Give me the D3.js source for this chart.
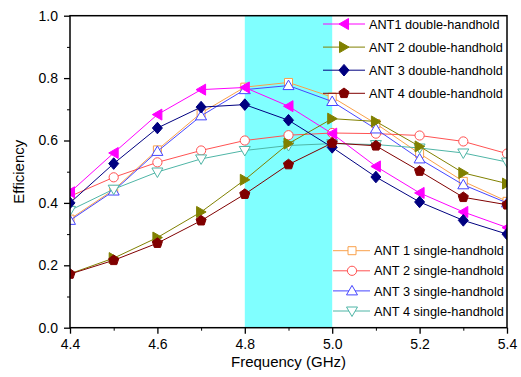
<!DOCTYPE html>
<html><head><meta charset="utf-8">
<script src="https://cdn.jsdelivr.net/npm/d3@7/dist/d3.min.js"></script>
<style>body{margin:0;background:#fff}svg{display:block;font-family:"Liberation Sans",Arial,sans-serif}</style>
</head><body><svg id="c" width="521" height="377"></svg>
<script>
const freq = [4.4,4.5,4.6,4.7,4.8,4.9,5.0,5.1,5.2,5.3,5.4];
const ant1Double = [0.434,0.560,0.683,0.763,0.770,0.710,0.622,0.517,0.432,0.371,0.321];
const ant2Double = [0.173,0.223,0.289,0.371,0.474,0.590,0.670,0.661,0.581,0.496,0.462];
const ant3Double = [0.400,0.526,0.640,0.707,0.715,0.665,0.578,0.483,0.403,0.344,0.300];
const ant4Double = [0.172,0.216,0.271,0.343,0.428,0.523,0.592,0.583,0.502,0.418,0.394];
const ant1Single = [0.348,0.442,0.570,0.688,0.771,0.786,0.739,0.654,0.558,0.469,0.405];
const ant2Single = [0.421,0.482,0.530,0.568,0.600,0.617,0.624,0.622,0.616,0.597,0.558];
const ant3Single = [0.344,0.438,0.565,0.679,0.763,0.776,0.725,0.637,0.541,0.458,0.400];
const ant4Single = [0.376,0.444,0.499,0.541,0.568,0.584,0.590,0.587,0.576,0.560,0.531];
const xTicks = [4.4,4.6,4.8,5.0,5.2,5.4];
const yTicks = [0.0,0.2,0.4,0.6,0.8,1.0];
const band = [4.8,5.0];

const singles = [
  {name:"ANT 1 single-handhold", values:ant1Single, color:"#f9a04a", shape:"square", open:true},
  {name:"ANT 2 single-handhold", values:ant2Single, color:"#ff5252", shape:"circle", open:true},
  {name:"ANT 3 single-handhold", values:ant3Single, color:"#4646ff", shape:"up", open:true},
  {name:"ANT 4 single-handhold", values:ant4Single, color:"#4fb5a6", shape:"down", open:true}
];
const doubles = [
  {name:"ANT1 double-handhold", values:ant1Double, color:"#ff00ff", shape:"left", open:false},
  {name:"ANT 2 double-handhold", values:ant2Double, color:"#808000", shape:"right", open:false},
  {name:"ANT 3 double-handhold", values:ant3Double, color:"#000080", shape:"diamond", open:false},
  {name:"ANT 4 double-handhold", values:ant4Double, color:"#800000", shape:"pentagon", open:false}
];

const svg = d3.select("#c");
const L=70, R=507, T=15.7, B=327.7;
const x = d3.scaleLinear().domain([4.4,5.4]).range([L,R]);
const y = d3.scaleLinear().domain([0,1]).range([B,T]);

function shapePath(shape){
  const p = d3.path();
  if(shape==="square"){ p.rect(-4,-4,8,8); }
  else if(shape==="circle"){ p.moveTo(4.6,0); p.arc(0,0,4.6,0,2*Math.PI); }
  else if(shape==="up"){ p.moveTo(0,-5.5); p.lineTo(5.5,4); p.lineTo(-5.5,4); p.closePath(); }
  else if(shape==="down"){ p.moveTo(0,5.5); p.lineTo(5.5,-4); p.lineTo(-5.5,-4); p.closePath(); }
  else if(shape==="left"){ p.moveTo(-5,0); p.lineTo(4.5,-5.5); p.lineTo(4.5,5.5); p.closePath(); }
  else if(shape==="right"){ p.moveTo(5,0); p.lineTo(-4.5,-5.5); p.lineTo(-4.5,5.5); p.closePath(); }
  else if(shape==="diamond"){ p.moveTo(0,-5.8); p.lineTo(5,0); p.lineTo(0,5.8); p.lineTo(-5,0); p.closePath(); }
  else if(shape==="pentagon"){
    for(let i=0;i<5;i++){ const a=-Math.PI/2+i*2*Math.PI/5; const px=5.3*Math.cos(a), py=5.3*Math.sin(a); if(i===0)p.moveTo(px,py); else p.lineTo(px,py);} p.closePath();
  }
  return p.toString();
}

svg.append("defs").append("clipPath").attr("id","clip").append("rect")
  .attr("x",L).attr("y",T).attr("width",R-L).attr("height",B-T);

// band
svg.append("rect").attr("x",x(band[0])).attr("y",T).attr("width",x(band[1])-x(band[0])).attr("height",B-T).attr("fill","#80ffff");

const plot = svg.append("g").attr("clip-path","url(#clip)");
const line = d3.line().x((d,i)=>x(freq[i])).y(d=>y(d));
function drawSeries(s){
  plot.append("path").attr("d",line(s.values)).attr("fill","none").attr("stroke",s.color).attr("stroke-width",1);
  plot.selectAll(null).data(s.values).enter().append("path")
    .attr("d",shapePath(s.shape))
    .attr("transform",(d,i)=>`translate(${x(freq[i])},${y(d)})`)
    .attr("fill",s.open?"#fff":s.color).attr("stroke",s.color).attr("stroke-width",1);
}
singles.forEach(drawSeries);
doubles.forEach(drawSeries);

// frame
svg.append("rect").attr("x",L).attr("y",T).attr("width",R-L).attr("height",B-T).attr("fill","none").attr("stroke","#000").attr("stroke-width",1.5);

// axes
const xAxis = d3.axisBottom(x).tickValues(xTicks).tickSize(6).tickPadding(5).tickFormat(d3.format(".1f"));
const gx = svg.append("g").attr("transform",`translate(0,${B})`).call(xAxis);
gx.select(".domain").remove();
gx.selectAll("line").attr("stroke-width",1.3);
gx.selectAll("text").attr("font-size",14).attr("font-family","Liberation Sans, Arial, sans-serif").attr("fill","#000");
const xMinor = d3.axisBottom(x).tickValues([4.5,4.7,4.9,5.1,5.3]).tickSize(3).tickFormat("");
const gxm = svg.append("g").attr("transform",`translate(0,${B})`).call(xMinor);
gxm.select(".domain").remove();

const yAxis = d3.axisLeft(y).tickValues(yTicks).tickSize(6).tickPadding(6).tickFormat(d3.format(".1f"));
const gy = svg.append("g").attr("transform",`translate(${L},0)`).call(yAxis);
gy.select(".domain").remove();
gy.selectAll("line").attr("stroke-width",1.3);
gy.selectAll("text").attr("font-size",14).attr("font-family","Liberation Sans, Arial, sans-serif").attr("fill","#000");
const yMinor = d3.axisLeft(y).tickValues([0.1,0.3,0.5,0.7,0.9]).tickSize(3).tickFormat("");
const gym = svg.append("g").attr("transform",`translate(${L},0)`).call(yMinor);
gym.select(".domain").remove();

svg.append("text").attr("x",(L+R)/2).attr("y",367).attr("text-anchor","middle").attr("font-size",15).text("Frequency (GHz)");
svg.append("text").attr("transform",`translate(24,${(T+B)/2}) rotate(-90)`).attr("text-anchor","middle").attr("font-size",15).text("Efficiency");

// legends
function legend(items, x0, x1, xm, xt, y0, dy, fs){
  items.forEach((s,i)=>{
    const yy = y0 + i*dy;
    svg.append("line").attr("x1",x0).attr("x2",x1).attr("y1",yy).attr("y2",yy).attr("stroke",s.color).attr("stroke-width",1);
    svg.append("path").attr("d",shapePath(s.shape)).attr("transform",`translate(${xm},${yy})`)
      .attr("fill",s.open?"#fff":s.color).attr("stroke",s.color);
    svg.append("text").attr("x",xt).attr("y",yy+4.6).attr("font-size",fs).attr("fill","#000").text(s.name);
  });
}
legend(doubles, 323, 365, 344, 369, 24, 23.1, 12.7);
legend(singles, 333, 370, 352, 374, 250.7, 20.1, 12.8);
</script></body></html>
